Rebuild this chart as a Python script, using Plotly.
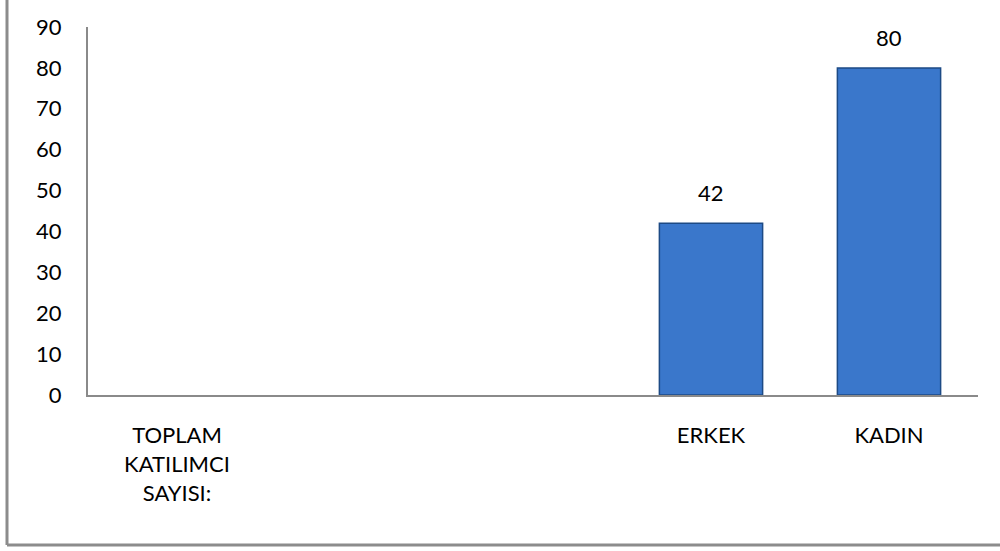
import plotly.graph_objects as go

categories = ["TOPLAM<br>KATILIMCI<br>SAYISI:", " ", "  ", "ERKEK", "KADIN"]
values = [None, None, None, 42, 80]
labels = ["", "", "", "42", "80"]
y_ticks = [0, 10, 20, 30, 40, 50, 60, 70, 80, 90]

W, H = 1000, 551
ml, mr, mt, mb = 88, 22, 27, 156
FONT = "Lato, Open Sans, Liberation Sans, sans-serif"

fig = go.Figure()
fig.add_trace(go.Bar(
    x=categories, y=values,
    marker=dict(color="#3a77cb", line=dict(color="#1d4a85", width=1.5)),
    width=0.58,
))

for c, v, t in zip(categories, values, labels):
    if v is not None and t:
        fig.add_annotation(x=c, y=v, text=t, showarrow=False, yanchor="bottom",
                           yshift=15, font=dict(size=22, color="#000000", family=FONT))

fig.update_layout(
    width=W, height=H,
    margin=dict(l=ml, r=mr, t=mt, b=mb),
    paper_bgcolor="white", plot_bgcolor="white",
    showlegend=False,
    font=dict(family=FONT, size=21, color="#000000"),
)
fig.update_xaxes(
    type="category", categoryorder="array", categoryarray=categories,
    showline=True, linecolor="#8a8a8a", linewidth=2, showgrid=False,
    ticks="", tickfont=dict(size=22), ticklabelstandoff=20, zeroline=False,
)
fig.update_yaxes(
    range=[0, 90], tickvals=y_ticks, showline=True, linecolor="#8a8a8a", linewidth=2,
    showgrid=False, zeroline=False, ticks="", tickfont=dict(size=22), ticklabelstandoff=20,
)

pw = W - ml - mr
ph = H - mt - mb
xb = (7 - ml) / pw
yb = -(545 - (H - mb)) / ph
# outer chart border (left and bottom edges visible)
fig.add_shape(type="line", xref="paper", yref="paper",
              x0=xb, x1=xb, y0=yb, y1=1 + mt / ph,
              line=dict(color="#8c8c8c", width=3))
fig.add_shape(type="line", xref="paper", yref="paper",
              x0=xb, x1=1 + mr / pw, y0=yb, y1=yb,
              line=dict(color="#8c8c8c", width=3))

fig.write_html("out.html", config={"displayModeBar": False},
               post_script="document.body.style.margin='0';document.body.style.overflow='hidden';")
